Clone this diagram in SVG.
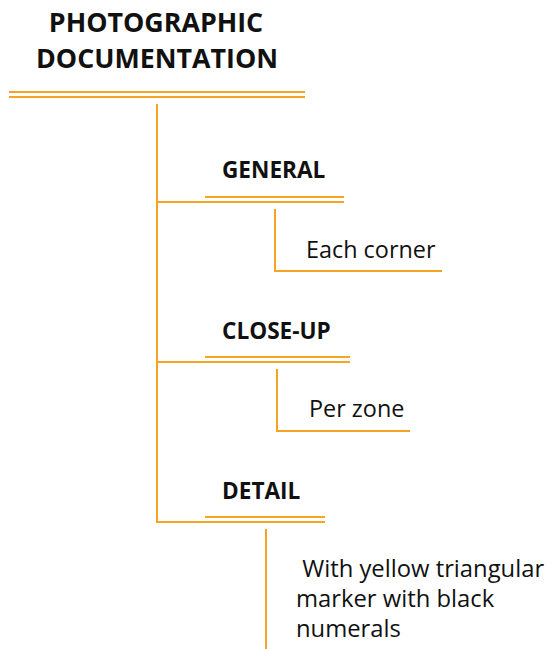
<svg xmlns="http://www.w3.org/2000/svg" width="548" height="649" viewBox="0 0 548 649">
<style>
.ln{stroke:#F7A323;stroke-width:2;fill:none}
.t{font-family:"Open Sans","Noto Sans",sans-serif;fill:#111}
.title{font-size:26.8px;font-weight:bold}
.h{font-size:22.6px;font-weight:bold}
.b{font-size:23.4px}
.w{font-size:23.8px}
</style>
<rect width="548" height="649" fill="#fff"/>
<g id="connectors">
<line class="ln" x1="9" y1="92" x2="305" y2="92"/>
<line class="ln" x1="9" y1="97" x2="305" y2="97"/>
<line class="ln" x1="157" y1="104" x2="157" y2="522"/>
<line class="ln" x1="205" y1="197" x2="344" y2="197"/>
<line class="ln" x1="156" y1="202" x2="344" y2="202"/>
<polyline class="ln" points="275,209 275,271 442,271"/>
<line class="ln" x1="205" y1="357" x2="350" y2="357"/>
<line class="ln" x1="156" y1="362" x2="350" y2="362"/>
<polyline class="ln" points="277,369 277,431 410,431"/>
<line class="ln" x1="205" y1="517" x2="325" y2="517"/>
<polyline class="ln" points="157,521 157,522 325,522"/>
<line class="ln" x1="266" y1="529" x2="266" y2="649"/>
</g>
<g id="root">
<text class="t title" x="156" y="32" text-anchor="middle">PHOTOGRAPHIC</text>
<text class="t title" x="157" y="68" text-anchor="middle">DOCUMENTATION</text>
</g>
<g id="general"><text class="t h" x="222" y="178">GENERAL</text></g>
<g id="each-corner"><text class="t b" x="306" y="258">Each corner</text></g>
<g id="close-up"><text class="t h" x="222" y="339">CLOSE-UP</text></g>
<g id="per-zone"><text class="t b" x="309" y="417">Per zone</text></g>
<g id="detail"><text class="t h" x="222" y="499">DETAIL</text></g>
<g id="detail-note">
<text class="t w" x="296" y="577" xml:space="preserve"> With yellow triangular</text>
<text class="t w" x="296" y="607">marker with black</text>
<text class="t w" x="296" y="637">numerals</text>
</g>
</svg>
